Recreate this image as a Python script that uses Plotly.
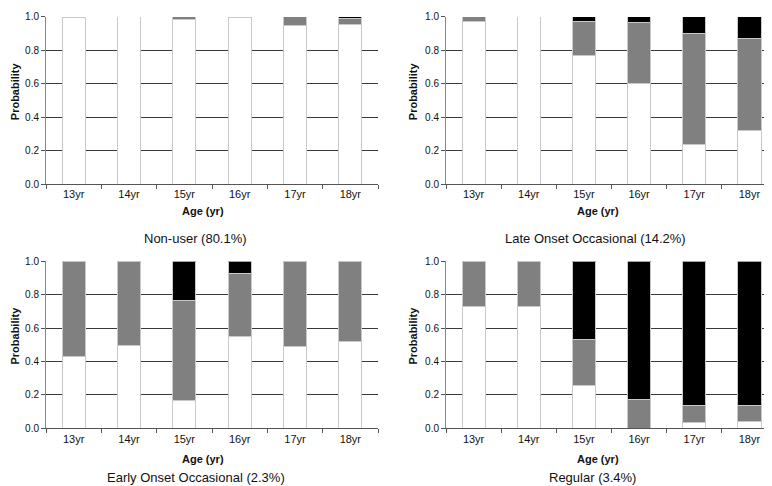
import plotly.graph_objects as go

ages = ["13yr", "14yr", "15yr", "16yr", "17yr", "18yr"]

# Stacked probabilities: white (bottom), grey (middle), black (top)
nonuser_white = [0.995, 1.0, 0.984, 0.995, 0.949, 0.953]
nonuser_grey = [0.005, 0.0, 0.016, 0.005, 0.051, 0.039]
nonuser_black = [0.0, 0.0, 0.0, 0.0, 0.0, 0.008]

late_white = [0.970, 1.0, 0.770, 0.603, 0.237, 0.319]
late_grey = [0.030, 0.0, 0.201, 0.364, 0.666, 0.553]
late_black = [0.0, 0.0, 0.029, 0.033, 0.097, 0.128]

early_white = [0.433, 0.493, 0.166, 0.548, 0.489, 0.522]
early_grey = [0.567, 0.507, 0.598, 0.376, 0.511, 0.478]
early_black = [0.0, 0.0, 0.236, 0.076, 0.0, 0.0]

regular_white = [0.731, 0.727, 0.259, 0.0, 0.035, 0.039]
regular_grey = [0.269, 0.273, 0.273, 0.170, 0.101, 0.099]
regular_black = [0.0, 0.0, 0.468, 0.830, 0.864, 0.862]

titles = ["Non-user (80.1%)", "Late Onset Occasional (14.2%)",
          "Early Onset Occasional (2.3%)", "Regular (3.4%)"]

panels = [
    (nonuser_white, nonuser_grey, nonuser_black),
    (late_white, late_grey, late_black),
    (early_white, early_grey, early_black),
    (regular_white, regular_grey, regular_black),
]

W, H = 772, 486
# plot areas in pixels (x0, x1, ytop, ybottom)
boxes = [
    (38, 370, 4, 175),
    (438, 769, 4, 175),
    (38, 370, 254, 425),
    (438, 769, 254, 425),
]
title_pos = [(187, 231), (587, 231), (188, 475), (584, 475)]
agelab_pos = [(195, 203), (590, 203), (195, 456), (590, 456)]
prob_pos = [(7, 80), (405, 80), (7, 330), (405, 330)]

fig = go.Figure()
colors = ["#ffffff", "#808080", "#000000"]
font = "Liberation Sans, Arial, sans-serif"

for i, (vals, box) in enumerate(zip(panels, boxes)):
    ax = "" if i == 0 else str(i + 1)
    for v, c in zip(vals, colors):
        fig.add_trace(go.Bar(
            x=ages, y=v, marker=dict(color=c, line=dict(color="#c8c8c8", width=1)),
            xaxis="x" + ax, yaxis="y" + ax, showlegend=False, hoverinfo="skip"))
    x0, x1, yt, yb = box
    fig.layout["xaxis" + ax] = dict(
        domain=[x0 / W, x1 / W], anchor="y" + ax, type="category",
        tickson="boundaries", ticks="outside", ticklen=4, tickcolor="#555",
        showline=True, linecolor="#555", linewidth=1, showgrid=False,
        tickfont=dict(size=11, color="#111", family=font))
    fig.layout["yaxis" + ax] = dict(
        domain=[1 - yb / H, 1 - yt / H], anchor="x" + ax, range=[0, 1],
        tickvals=[0, 0.2, 0.4, 0.6, 0.8, 1.0], ticktext=["0.0", "0.2", "0.4", "0.6", "0.8", "1.0"],
        ticks="outside", ticklen=4, tickcolor="#555",
        showline=True, linecolor="#888", linewidth=1,
        showgrid=True, gridcolor="#3a3a3a", gridwidth=1, zeroline=False,
        tickfont=dict(size=10, color="#111", family=font))

annotations = []
for i in range(4):
    tx, ty = title_pos[i]
    annotations.append(dict(x=tx / W, y=1 - ty / H, xref="paper", yref="paper",
                            text=titles[i], showarrow=False, xanchor="center", yanchor="middle",
                            font=dict(size=13, color="#111", family=font)))
    ax_, ay_ = agelab_pos[i]
    annotations.append(dict(x=ax_ / W, y=1 - ay_ / H, xref="paper", yref="paper",
                            text="<b>Age (yr)</b>", showarrow=False, xanchor="center", yanchor="middle",
                            font=dict(size=11, color="#111", family=font)))
    px, py = prob_pos[i]
    annotations.append(dict(x=px / W, y=1 - py / H, xref="paper", yref="paper",
                            text="<b>Probability</b>", showarrow=False, textangle=-90,
                            xanchor="center", yanchor="middle",
                            font=dict(size=11, color="#111", family=font)))

fig.update_layout(
    width=W, height=H, margin=dict(l=0, r=0, t=0, b=0),
    barmode="stack", bargap=0.58,
    paper_bgcolor="white", plot_bgcolor="white",
    annotations=annotations,
)

fig.write_html("out.html")
